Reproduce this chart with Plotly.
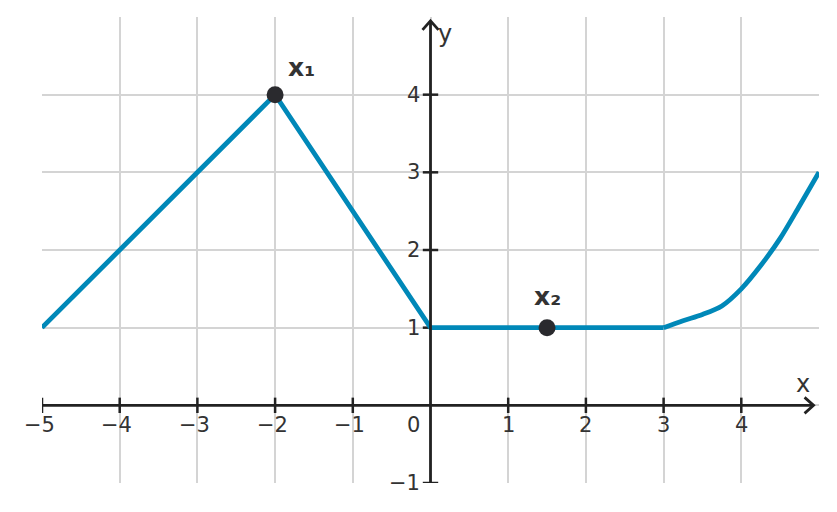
import plotly.graph_objects as go

# Piecewise-linear part of the function
line_x = [-5, -2, 0, 3]
line_y = [1, 4, 1, 1]
# Curved tail
curve_x = [3, 3.25, 3.5, 3.75, 4, 4.25, 4.5, 4.75, 5]
curve_y = [1, 1.09, 1.17, 1.28, 1.5, 1.8, 2.15, 2.57, 3.0]
# Marked points
pts_x = [-2, 1.5]
pts_y = [4, 1]
pts_labels = ["x₁", "x₂"]

x_ticks = [-5, -4, -3, -2, -1, 0, 1, 2, 3, 4]
y_ticks = [-1, 0, 1, 2, 3, 4]

def fmt(v):
    return ("−" + str(-v)) if v < 0 else str(v)

BLUE = "#0088b8"
DARK = "#222222"
TXT = "#333333"
GRID = "#d4d4d4"
FONT = "DejaVu Sans"
TICK_SIZE = 21

fig = go.Figure()

# tick marks crossing the axes
fig.add_trace(go.Scatter(x=[v for v in x_ticks if v != 0], y=[0] * (len(x_ticks) - 1),
                         mode="markers", hoverinfo="skip",
                         marker=dict(symbol="line-ns-open", size=11, color=DARK,
                                     line=dict(color=DARK, width=2.5))))
fig.add_trace(go.Scatter(x=[0] * (len(y_ticks) - 1), y=[v for v in y_ticks if v != 0],
                         mode="markers", hoverinfo="skip",
                         marker=dict(symbol="line-ew-open", size=11, color=DARK,
                                     line=dict(color=DARK, width=2.5))))

fig.add_trace(go.Scatter(x=line_x, y=line_y, mode="lines",
                         line=dict(color=BLUE, width=4.8)))
fig.add_trace(go.Scatter(x=curve_x, y=curve_y, mode="lines",
                         line=dict(color=BLUE, width=4.8, shape="spline", smoothing=0.9)))
fig.add_trace(go.Scatter(x=pts_x, y=pts_y, mode="markers",
                         marker=dict(color="#2a2a2e", size=17)))

# axes lines with arrows
fig.add_shape(type="line", x0=-5, y0=0, x1=4.93, y1=0, line=dict(color=DARK, width=2.8), layer="above")
fig.add_shape(type="line", x0=0, y0=-1, x1=0, y1=4.95, line=dict(color=DARK, width=2.8), layer="above")
fig.add_shape(type="path", xref="x", yref="y", xsizemode="pixel", ysizemode="pixel",
              xanchor=4.93, yanchor=0, path="M -9,-8 L 0,0 L -9,8",
              line=dict(color=DARK, width=2.8), layer="above")
fig.add_shape(type="path", xref="x", yref="y", xsizemode="pixel", ysizemode="pixel",
              xanchor=0, yanchor=4.95, path="M -8,-9 L 0,0 L 8,-9",
              line=dict(color=DARK, width=2.8), layer="above")

ann = []
for v in x_ticks:
    if v == 0:
        continue
    ann.append(dict(x=v, y=0, text=fmt(v), showarrow=False, yshift=-20,
                    xshift=-3 if v < 0 else 0,
                    font=dict(family=FONT, size=TICK_SIZE, color=TXT)))
for v in y_ticks:
    if v == 0:
        continue
    ann.append(dict(x=0, y=v, text=fmt(v), showarrow=False, xshift=-9, xanchor="right",
                    font=dict(family=FONT, size=TICK_SIZE, color=TXT)))
ann.append(dict(x=0, y=0, text="0", showarrow=False, xshift=-17, yshift=-20,
                font=dict(family=FONT, size=TICK_SIZE, color=TXT)))
for px, py, t in zip(pts_x, pts_y, pts_labels):
    ann.append(dict(x=px, y=py, text="<b>" + t + "</b>", showarrow=False,
                    xshift=26 if px < 0 else 0, yshift=27 if px < 0 else 31,
                    font=dict(family=FONT, size=25, color=TXT)))
ann.append(dict(x=4.8, y=0, text="x", showarrow=False, yshift=21,
                font=dict(family=FONT, size=24, color=TXT)))
ann.append(dict(x=0, y=4.95, text="y", showarrow=False, xshift=14, yshift=-13,
                font=dict(family=FONT, size=24, color=TXT)))

fig.update_layout(
    width=829, height=504,
    margin=dict(l=34, r=18, t=9, b=29),
    plot_bgcolor="white", paper_bgcolor="white",
    showlegend=False,
    annotations=ann,
    font=dict(family=FONT),
)
fig.update_xaxes(range=[-5, 5], tickvals=x_ticks, showticklabels=False, showgrid=True,
                 gridcolor=GRID, gridwidth=1.5, zeroline=False, showline=False, ticks="")
fig.update_yaxes(range=[-1, 5], tickvals=y_ticks, showticklabels=False, showgrid=True,
                 gridcolor=GRID, gridwidth=1.5, zeroline=False, showline=False, ticks="")

fig.write_html("out.html")
